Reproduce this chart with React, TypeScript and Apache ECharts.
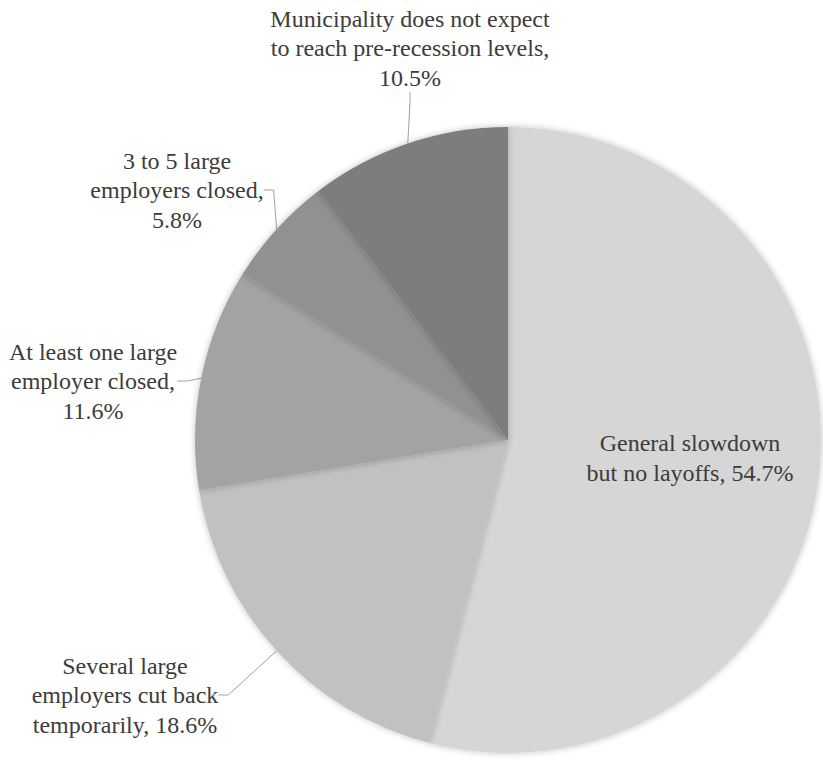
import React, { useEffect, useRef } from "react";
import * as echarts from "echarts";

const categories = [
  "General slowdown\nbut no layoffs",
  "Several large\nemployers cut back\ntemporarily",
  "At least one large\nemployer closed",
  "3 to 5 large\nemployers closed",
  "Municipality does not expect\nto reach pre-recession levels",
];
const values = [54.7, 18.6, 11.6, 5.8, 10.5];
const labelTexts = [
  "General slowdown\nbut no layoffs, 54.7%",
  "Several large\nemployers cut back\ntemporarily, 18.6%",
  "At least one large\nemployer closed,\n11.6%",
  "3 to 5 large\nemployers closed,\n5.8%",
  "Municipality does not expect\nto reach pre-recession levels,\n10.5%",
];
const sliceColors = ["#d6d6d6", "#c1c1c1", "#a3a3a3", "#919191", "#7d7d7d"];
// label centre positions (px)
const labelPos: number[][] = [
  [690, 458],
  [125, 695],
  [93, 381],
  [177, 190],
  [410, 48],
];

export default function App() {
  const ref = useRef<HTMLDivElement>(null);
  useEffect(() => {
    document.body.style.margin = "0";
    const chart = echarts.init(ref.current!, undefined, { renderer: "svg" });
    chart.setOption({
      animation: false,
      backgroundColor: "#ffffff",
      series: [
        {
          type: "pie",
          center: [508, 440],
          radius: 313,
          startAngle: 90,
          clockwise: true,
          data: categories.map((c, i) => ({
            name: c,
            value: values[i],
            itemStyle: { color: sliceColors[i] },
            label: { formatter: labelTexts[i] },
            labelLine: { show: i !== 0 },
          })),
          itemStyle: {
            shadowBlur: 6,
            shadowColor: "rgba(0,0,0,0.25)",
          },
          label: {
            show: true,
            position: "outside",
            fontFamily: "'Liberation Serif', 'DejaVu Serif', serif",
            fontSize: 24,
            lineHeight: 29.5,
            color: "#3c3c3c",
            align: "center",
            overflow: "none",
            bleedMargin: 0,
          },
          labelLine: {
            show: true,
            length: 20,
            length2: 10,
            lineStyle: { color: "#a59e9c", width: 1 },
          },
          labelLayout: (params: any) => {
            const p = labelPos[params.dataIndex];
            return { x: p[0], y: p[1], align: "center", verticalAlign: "middle" };
          },
        },
      ],
    });
    return () => chart.dispose();
  }, []);
  return <div ref={ref} style={{ width: 823, height: 761 }} />;
}
